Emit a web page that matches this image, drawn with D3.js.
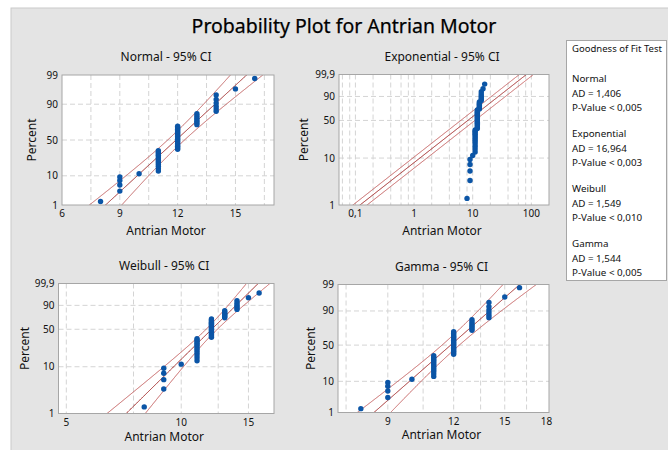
<!DOCTYPE html>
<html>
<head>
<meta charset="utf-8">
<script src="https://cdn.jsdelivr.net/npm/d3@7"></script>
<style>
  html, body { margin: 0; padding: 0; background: #fff; }
  svg { display: block; font-family: "Noto Sans", "Open Sans", sans-serif; }
</style>
</head>
<body>
<svg id="chart" width="668" height="450"></svg>
<script>
// --- Data (Antrian Motor sample, n = 50) ---
const motor = [
  8,
  9, 9, 9, 9,
  10,
  11, 11, 11, 11, 11, 11, 11, 11, 11, 11, 11, 11,
  12, 12, 12, 12, 12, 12, 12, 12, 12, 12, 12, 12, 12, 12, 12, 12, 12,
  13, 13, 13, 13, 13, 13, 13,
  14, 14, 14, 14, 14, 14,
  15,
  16
];

// fitted parameters
const normalMean = 11.92, normalSd = 1.573;
const expMean = 11.92;
const weibullShape = 8.2, weibullScale = 12.57;
const gammaShape = 54, gammaScale = 0.2207;

// goodness of fit table
const fitNames = ["Normal", "Exponential", "Weibull", "Gamma"];
const fitAD = ["1,406", "16,964", "1,549", "1,544"];
const fitP = ["< 0,005", "< 0,003", "< 0,010", "< 0,005"];

// axis ticks
const pctTicks = [1, 10, 50, 90, 99];
const pctTicks3 = [1, 10, 50, 90, 99.9];
const normalXTicks = [6, 9, 12, 15];
const normalXGrid = [7.5, 9, 10.5, 12, 13.5, 15, 16.5];
const expXTicks = [0.1, 1, 10, 100];
const expXGrid = [0.06, 0.08, 0.1, 0.2, 0.4, 0.6, 0.8, 1, 2, 4, 6, 8, 10, 20, 40, 60, 80, 100];
const weibullXTicks = [5, 10, 15];
const weibullXGrid = [5, 7.5, 10, 12.5, 15];
const gammaXTicks = [9, 12, 15, 18];
const gammaXGrid = [7.5, 9, 10.5, 12, 13.5, 15, 16.5];

// --- helpers ---
function qnorm(p) {
  const a = [-3.969683028665376e+01, 2.209460984245205e+02, -2.759285104469687e+02, 1.383577518672690e+02, -3.066479806614716e+01, 2.506628277459239e+00];
  const b = [-5.447609879822406e+01, 1.615858368580409e+02, -1.556989798598866e+02, 6.680131188771972e+01, -1.328068155288572e+01];
  const c = [-7.784894002430293e-03, -3.223964580411365e-01, -2.400758277161838e+00, -2.549732539343734e+00, 4.374664141464968e+00, 2.938163982698783e+00];
  const d = [7.784695709041462e-03, 3.224671290700398e-01, 2.445134137142996e+00, 3.754408661907416e+00];
  const pl = 0.02425;
  let q, r;
  if (p < pl) {
    q = Math.sqrt(-2 * Math.log(p));
    return (((((c[0]*q+c[1])*q+c[2])*q+c[3])*q+c[4])*q+c[5]) / ((((d[0]*q+d[1])*q+d[2])*q+d[3])*q+1);
  } else if (p <= 1 - pl) {
    q = p - 0.5; r = q * q;
    return (((((a[0]*r+a[1])*r+a[2])*r+a[3])*r+a[4])*r+a[5])*q / (((((b[0]*r+b[1])*r+b[2])*r+b[3])*r+b[4])*r+1);
  } else {
    q = Math.sqrt(-2 * Math.log(1 - p));
    return -(((((c[0]*q+c[1])*q+c[2])*q+c[3])*q+c[4])*q+c[5]) / ((((d[0]*q+d[1])*q+d[2])*q+d[3])*q+1);
  }
}
const wq = p => Math.log(-Math.log(1 - p));
// log of gamma quantile (Wilson-Hilferty)
const lnGq = (p, k) => Math.log(k) + 3 * Math.log(1 - 1 / (9 * k) + qnorm(p) / (3 * Math.sqrt(k)));
const fmt = v => String(v).replace(".", ",");

const n = motor.length;
const sorted = motor.slice().sort(d3.ascending);
const ranks = sorted.map((v, i) => ({ x: v, p: (i + 1 - 0.3) / (n + 0.4) }));
const pGrid = d3.range(-10, 10.001, 0.02).map(t => 1 / (1 + Math.exp(-t)));
const Z = 1.959964;

const svg = d3.select("#chart");
svg.append("rect").attr("x", 11).attr("y", 8).attr("width", 660).attr("height", 450)
  .attr("fill", "#e4e4e4").attr("stroke", "#c9c9c9");

svg.append("text").attr("x", 344).attr("y", 33).attr("text-anchor", "middle")
  .attr("font-size", 19.5).attr("fill", "#000").attr("stroke", "#000").attr("stroke-width", 0.25)
  .text("Probability Plot for Antrian Motor");

// --- panel definitions ---
const panels = [
  {
    title: "Normal - 95% CI", box: [62, 75, 274, 205], pctLabelX: 32, xLabelY: 231,
    x: d3.scaleLinear().domain([6, 17]), yv: p => qnorm(p), yTicks: pctTicks,
    xTicks: normalXTicks, xGrid: normalXGrid,
    fit: p => normalMean + qnorm(p) * normalSd,
    ci: (p, s) => {
      const z = qnorm(p);
      return normalMean + z * normalSd + s * Z * normalSd * Math.sqrt(1 / n + z * z / (2 * n));
    }
  },
  {
    title: "Exponential - 95% CI", box: [339, 74.5, 549, 205], pctLabelX: 304, xLabelY: 231,
    x: d3.scaleLog().domain([0.0525, 200]), yv: wq, yTicks: pctTicks3,
    xTicks: expXTicks, xGrid: expXGrid,
    fit: p => expMean * -Math.log(1 - p),
    ci: (p, s) => expMean * -Math.log(1 - p) * Math.exp(s * Z / Math.sqrt(n))
  },
  {
    title: "Weibull - 95% CI", box: [58.5, 283.5, 274, 413.5], pctLabelX: 25, xLabelY: 437,
    x: d3.scaleLog().domain([4.77, 17.5]), yv: wq, yTicks: pctTicks3,
    xTicks: weibullXTicks, xGrid: weibullXGrid,
    fit: p => weibullScale * Math.exp(wq(p) / weibullShape),
    ci: (p, s) => {
      const w = wq(p), b = 1 / weibullShape;
      const se = b / Math.sqrt(n) * Math.sqrt(1.1087 + 0.6079 * w * w + 2 * 0.2570 * w);
      return weibullScale * Math.exp(w * b + s * Z * se);
    }
  },
  {
    title: "Gamma - 95% CI", box: [338, 284.5, 549, 412.5], pctLabelX: 311, xLabelY: 435,
    x: d3.scaleLog().domain([7.24, 18.2]), yv: p => lnGq(p, gammaShape), yTicks: pctTicks,
    xTicks: gammaXTicks, xGrid: gammaXGrid,
    fit: p => gammaScale * Math.exp(lnGq(p, gammaShape)),
    ci: (p, s) => {
      const z = qnorm(p), sl = 1 / Math.sqrt(gammaShape);
      return gammaScale * Math.exp(lnGq(p, gammaShape) + s * Z * sl * Math.sqrt(1 / n + z * z / (2 * n)));
    }
  }
];

panels.forEach((P, idx) => {
  const [x0, y0, x1, y1] = P.box;
  const yTop = P.yTicks[P.yTicks.length - 1] / 100;
  const x = P.x.range([x0, x1]);
  const y = d3.scaleLinear().domain([P.yv(0.01), P.yv(yTop)]).range([y1, y0]);
  const g = svg.append("g");

  g.append("rect").attr("x", x0).attr("y", y0).attr("width", x1 - x0).attr("height", y1 - y0)
    .attr("fill", "#fff");

  const clipId = "clip" + idx;
  svg.append("clipPath").attr("id", clipId).append("rect")
    .attr("x", x0).attr("y", y0).attr("width", x1 - x0).attr("height", y1 - y0);

  // grid
  g.selectAll(".vg").data(P.xGrid).join("line")
    .attr("x1", d => x(d)).attr("x2", d => x(d)).attr("y1", y0).attr("y2", y1)
    .attr("stroke", "#d4d4d4").attr("stroke-dasharray", "5,3");
  g.selectAll(".hg").data(P.yTicks.slice(1, -1)).join("line")
    .attr("x1", x0).attr("x2", x1).attr("y1", d => y(P.yv(d / 100))).attr("y2", d => y(P.yv(d / 100)))
    .attr("stroke", "#d4d4d4").attr("stroke-dasharray", "5,3");

  // fit + CI
  const lg = g.append("g").attr("clip-path", `url(#${clipId})`);
  const line = f => d3.line().x(p => x(f(p))).y(p => y(P.yv(p)))(pGrid.filter(p => f(p) > 0));
  lg.append("path").attr("d", line(p => P.ci(p, -1))).attr("fill", "none").attr("stroke", "#c05a5a").attr("stroke-width", 1);
  lg.append("path").attr("d", line(p => P.ci(p, 1))).attr("fill", "none").attr("stroke", "#c05a5a").attr("stroke-width", 1);
  lg.append("path").attr("d", line(P.fit)).attr("fill", "none").attr("stroke", "#9b1c1c").attr("stroke-width", 1);

  // points
  g.selectAll("circle").data(ranks).join("circle")
    .attr("cx", d => x(d.x)).attr("cy", d => y(P.yv(d.p))).attr("r", 2.7).attr("fill", "#0b55a6");

  // frame
  g.append("rect").attr("x", x0).attr("y", y0).attr("width", x1 - x0).attr("height", y1 - y0)
    .attr("fill", "none").attr("stroke", "#a6a6a6");

  // ticks
  g.selectAll(".yt").data(P.yTicks).join("text")
    .attr("x", x0 - 4).attr("y", d => y(P.yv(d / 100))).attr("dy", "0.35em")
    .attr("text-anchor", "end").attr("font-size", 10).attr("fill", "#111").text(fmt);
  g.selectAll(".xt").data(P.xTicks).join("text")
    .attr("x", d => x(d)).attr("y", y1 + 12).attr("text-anchor", "middle")
    .attr("font-size", 10).attr("fill", "#111").text(fmt);

  // labels
  g.append("text").attr("x", (x0 + x1) / 2 - 2).attr("y", y0 - 14).attr("text-anchor", "middle")
    .attr("font-size", 12).attr("fill", "#111").text(P.title);
  g.append("text").attr("x", (x0 + x1) / 2 - 2).attr("y", P.xLabelY + 4).attr("text-anchor", "middle")
    .attr("font-size", 12).attr("fill", "#111").text("Antrian Motor");
  g.append("text").attr("transform", `translate(${P.pctLabelX + 4},${(y0 + y1) / 2}) rotate(-90)`)
    .attr("text-anchor", "middle").attr("font-size", 12).attr("fill", "#111").text("Percent");
});

// --- goodness of fit box ---
const lgBox = svg.append("g");
lgBox.append("rect").attr("x", 566.5).attr("y", 40.5).attr("width", 100).attr("height", 240)
  .attr("fill", "#fff").attr("stroke", "#a6a6a6");
lgBox.append("text").attr("x", 572).attr("y", 52).attr("font-size", 9.5).attr("fill", "#111")
  .attr("textLength", 90).attr("lengthAdjust", "spacingAndGlyphs")
  .text("Goodness of Fit Test");
fitNames.forEach((name, i) => {
  const top = 82 + i * 55;
  const rows = [name, `AD = ${fitAD[i]}`, `P-Value ${fitP[i]}`];
  rows.forEach((t, j) => {
    lgBox.append("text").attr("x", 572).attr("y", top + j * 14.5).attr("font-size", 9.8)
      .attr("fill", "#111").text(t);
  });
});
</script>
</body>
</html>
